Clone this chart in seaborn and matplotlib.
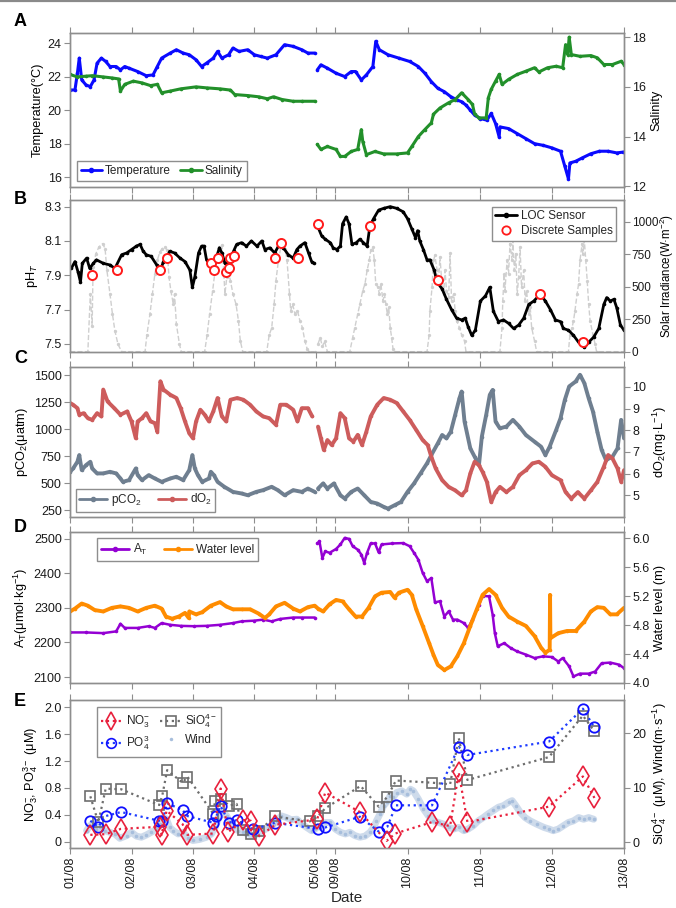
import numpy as np
import matplotlib
matplotlib.use("Agg")
import matplotlib.pyplot as plt
from matplotlib.lines import Line2D
import seaborn as sns

# ------------------------------------------------------------------ data
tick_days = [1, 2, 3, 4, 5, 9, 10, 11, 12, 13]
tick_labels = ["01/08", "02/08", "03/08", "04/08", "05/08",
               "09/08", "10/08", "11/08", "12/08", "13/08"]

# Panel A (day of August, value)
temp_day = [1.00, 1.08, 1.12, 1.15, 1.19, 1.26, 1.33, 1.39, 1.44, 1.51, 1.58, 1.65, 1.75, 1.82, 1.89,
            1.96, 2.10, 2.24, 2.35, 2.42, 2.49, 2.63, 2.73, 2.84, 2.94, 3.05, 3.14, 3.22, 3.33, 3.40,
            3.47, 3.58, 3.65, 3.75, 3.89, 4.00, 4.10, 4.21, 4.35, 4.49, 4.63, 4.77, 4.87, 4.98,
            8.75, 8.80, 8.89, 9.01, 9.13, 9.22, 9.28, 9.36, 9.43, 9.52, 9.56, 9.61, 9.73, 9.88, 10.03,
            10.15, 10.24, 10.33, 10.42, 10.51, 10.60, 10.69, 10.75, 10.81, 10.87, 10.93, 11.01, 11.10,
            11.16, 11.22, 11.27, 11.28, 11.40, 11.52, 11.64, 11.76, 11.88, 12.00, 12.12, 12.18, 12.23,
            12.25, 12.33, 12.42, 12.54, 12.66, 12.78, 12.90, 12.99]
temp_val = [21.2, 21.2, 22.2, 23.1, 21.8, 21.5, 21.4, 21.8, 22.8, 23.1, 22.9, 22.6, 22.6, 22.4, 22.6,
            22.5, 22.3, 22.05, 22.1, 22.6, 23.1, 23.4, 23.6, 23.4, 23.3, 23.0, 22.6, 22.8, 23.1, 23.5,
            23.1, 23.3, 23.7, 23.5, 23.6, 23.3, 23.2, 23.1, 23.3, 23.9, 23.8, 23.6, 23.4, 23.4,
            22.4, 22.7, 22.5, 22.2, 22.0, 22.3, 22.3, 21.8, 22.1, 22.6, 24.1, 23.6, 23.3, 23.1, 22.9,
            22.6, 22.2, 21.7, 21.3, 21.1, 20.8, 20.6, 20.5, 20.3, 20.0, 19.7, 19.5, 19.4,
            19.8, 19.2, 18.4, 19.0, 18.9, 18.6, 18.3, 18.0, 17.9, 17.75, 17.55, 16.65, 15.9,
            16.85, 16.95, 17.15, 17.4, 17.55, 17.55, 17.45, 17.5]

sal_day = [1.00, 1.12, 1.26, 1.36, 1.54, 1.68, 1.79, 1.82, 1.89, 2.03, 2.17, 2.31, 2.42, 2.49, 2.63,
           2.80, 3.05, 3.22, 3.44, 3.61, 3.68, 3.89, 4.07, 4.21, 4.31, 4.45, 4.63, 4.77, 4.98,
           8.75, 8.80, 8.89, 9.01, 9.07, 9.13, 9.22, 9.31, 9.36, 9.38, 9.43, 9.55, 9.67, 9.85, 10.00,
           10.06, 10.15, 10.24, 10.33, 10.36, 10.45, 10.57, 10.66, 10.75, 10.84, 10.90, 10.93, 10.99,
           11.09, 11.12, 11.16, 11.22, 11.27, 11.31, 11.40, 11.52, 11.64, 11.76, 11.82, 11.94, 12.06,
           12.15, 12.19, 12.22, 12.24, 12.27, 12.39, 12.54, 12.63, 12.72, 12.84, 12.96, 13.00]
sal_val = [16.5, 16.4, 16.43, 16.45, 16.4, 16.36, 16.32, 15.83, 16.1, 16.23, 16.16, 16.05, 16.1, 15.76, 15.83,
           15.92, 16.0, 15.96, 15.92, 15.87, 15.69, 15.65, 15.6, 15.52, 15.6, 15.49, 15.42, 15.42, 15.42,
           13.68, 13.48, 13.6, 13.48, 13.2, 13.2, 13.4, 13.48, 14.28, 13.8, 13.27, 13.4, 13.3, 13.3, 13.34,
           13.6, 14.0, 14.28, 14.55, 14.9, 15.15, 15.36, 15.49, 15.76, 15.49, 15.29, 14.9, 14.75,
           14.75, 15.56, 15.9, 16.23, 16.5, 16.1, 16.3, 16.5, 16.63, 16.77, 16.6, 16.77, 16.83,
           16.77, 17.7, 17.3, 18.0, 17.3, 17.23, 17.26, 17.17, 16.9, 16.9, 17.03, 16.9]

# Panel B
ph_day = [1.02, 1.08, 1.13, 1.17, 1.20, 1.27, 1.32, 1.38, 1.43, 1.54, 1.65, 1.73, 1.84, 1.92, 2.00,
          2.08, 2.14, 2.19, 2.24, 2.32, 2.41, 2.46, 2.52, 2.57, 2.62, 2.70, 2.79, 2.87, 2.95, 2.99,
          3.03, 3.09, 3.14, 3.18, 3.22, 3.30, 3.36, 3.43, 3.47, 3.52, 3.60, 3.66, 3.71, 3.79, 3.87,
          3.95, 4.04, 4.12, 4.17, 4.25, 4.33, 4.42, 4.47, 4.55, 4.63, 4.69, 4.74, 4.82, 4.88, 4.93, 4.97,
          8.76, 8.81, 8.86, 8.93, 8.97, 9.02, 9.07, 9.10, 9.15, 9.19, 9.23, 9.29, 9.34, 9.39, 9.44,
          9.48, 9.53, 9.60, 9.67, 9.76, 9.85, 9.94, 10.0, 10.06, 10.11, 10.14, 10.17, 10.22, 10.27, 10.31,
          10.37, 10.41, 10.48, 10.54, 10.61, 10.68, 10.75, 10.80, 10.84, 10.89, 10.94, 11.01, 11.08, 11.14,
          11.19, 11.26, 11.33, 11.40, 11.47, 11.54, 11.61, 11.68, 11.75, 11.84, 11.91, 11.98, 12.05, 12.12,
          12.16, 12.23, 12.30, 12.37, 12.45, 12.51, 12.58, 12.65, 12.72, 12.76, 12.81, 12.86, 12.90, 12.95, 13.0]
ph_val = [7.94, 7.98, 7.92, 7.86, 7.97, 8.0, 7.94, 7.97, 7.99, 7.97, 7.96, 7.94, 8.02, 8.03, 8.05,
          8.07, 8.08, 8.04, 8.02, 8.01, 7.96, 7.92, 7.98, 8.0, 8.04, 8.03, 8.0, 7.98, 7.93, 7.83,
          7.89, 8.03, 8.07, 8.07, 7.99, 7.96, 7.98, 8.06, 8.03, 7.97, 7.97, 8.04, 8.08, 8.09, 8.07,
          8.1, 8.07, 8.1, 8.05, 8.06, 8.03, 8.09, 8.06, 8.02, 8.0, 8.05, 8.07, 8.09, 8.03, 7.98, 7.97,
          8.18, 8.13, 8.11, 8.09, 8.06, 8.05, 8.07, 8.20, 8.24, 8.20, 8.08, 8.09, 8.11, 8.09, 8.07,
          8.19, 8.23, 8.28, 8.29, 8.30, 8.29, 8.27, 8.23, 8.17, 8.12, 8.16, 8.10, 8.05, 7.99, 7.99,
          7.93, 7.86, 7.82, 7.76, 7.70, 7.65, 7.64, 7.65, 7.60, 7.55, 7.58, 7.75, 7.78, 7.83,
          7.69, 7.63, 7.64, 7.62, 7.59, 7.61, 7.65, 7.73, 7.75, 7.79, 7.75, 7.70, 7.64, 7.63,
          7.59, 7.58, 7.55, 7.51, 7.48, 7.51, 7.54, 7.59, 7.73, 7.77, 7.75, 7.76, 7.71, 7.61, 7.58]

disc_day = [1.36, 1.76, 2.46, 2.58, 3.29, 3.34, 3.41, 3.53, 3.58, 3.61, 3.67, 4.33, 4.43, 4.71,
            8.76, 9.48, 10.42, 11.84, 12.43]
disc_val = [7.90, 7.93, 7.93, 8.00, 7.97, 7.93, 8.00, 7.92, 7.94, 8.00, 8.01, 8.00, 8.09, 8.00,
            8.20, 8.19, 7.87, 7.79, 7.51]

irr_day = [1.00, 1.29, 1.33, 1.36, 1.375, 1.42, 1.47, 1.53, 1.57, 1.60, 1.65, 1.69, 1.73, 1.78, 1.84,
           2.22, 2.25, 2.30, 2.34, 2.38, 2.42, 2.46, 2.50, 2.54, 2.58, 2.61, 2.64, 2.68, 2.70, 2.73, 2.78, 2.81,
           3.19, 3.23, 3.27, 3.32, 3.36, 3.39, 3.43, 3.47, 3.49, 3.52, 3.55, 3.57, 3.61, 3.65, 3.70, 3.74, 3.77, 3.81,
           4.20, 4.24, 4.28, 4.32, 4.35, 4.39, 4.43, 4.46, 4.50, 4.53, 4.57, 4.59, 4.62, 4.66, 4.70, 4.74, 4.78,
           4.82, 4.86, 4.89, 4.98,
           8.76, 8.79, 8.82, 8.85, 8.89,
           9.20, 9.24, 9.27, 9.31, 9.34, 9.38, 9.41, 9.44, 9.47, 9.49, 9.52, 9.54, 9.56, 9.59, 9.61, 9.63, 9.66,
           9.68, 9.70, 9.72, 9.74, 9.76, 9.78, 9.80, 9.82,
           10.27, 10.30, 10.31, 10.34, 10.36, 10.38, 10.41, 10.43, 10.45, 10.48, 10.50, 10.52, 10.54, 10.57,
           10.59, 10.61, 10.64, 10.66, 10.68, 10.72, 10.75, 10.79, 10.81,
           11.28, 11.31, 11.32, 11.34, 11.35, 11.38, 11.40, 11.42, 11.45, 11.46, 11.48, 11.50, 11.52, 11.54,
           11.56, 11.58, 11.61, 11.63, 11.65, 11.68, 11.70, 11.72, 11.76, 11.79,
           12.23, 12.25, 12.28, 12.30, 12.32, 12.35, 12.37, 12.39, 12.42, 12.43, 12.45, 12.47, 12.49, 12.51,
           12.53, 12.57, 12.60, 12.62, 13.0]
irr_val = [0, 0, 444, 199, 651, 754, 806, 832, 793, 625, 444, 289, 160, 57, 0,
           0, 129, 289, 444, 599, 703, 767, 793, 806, 780, 573, 470, 366, 444, 212, 57, 0,
           0, 129, 289, 470, 625, 728, 806, 819, 703, 444, 573, 625, 547, 444, 366, 237, 83, 0,
           0, 129, 181, 366, 547, 703, 806, 845, 793, 703, 444, 315, 366, 289, 315, 237, 186,
           82, 18, 0, 0,
           60, 108, 40, 80, 0,
           0, 108, 186, 289, 366, 470, 521, 625, 703, 780, 806, 703, 521, 496, 444, 521, 392,
           444, 366, 289, 341, 186, 108, 18, 0,
           0, 129, 315, 496, 703, 741, 625, 547, 728, 496, 444, 625, 470, 418,
           760, 392, 444, 315, 237, 186, 129, 82, 0,
           0, 186, 392, 599, 470, 703, 599, 832, 703, 858, 625, 754, 444, 573,
           806, 496, 625, 392, 470, 289, 341, 186, 82, 0,
           0, 129, 186, 237, 315, 444, 521, 703, 832, 754, 858, 703, 547, 366,
           237, 129, 57, 0, 0]

# Panel C
pco2_day = [1.00, 1.05, 1.12, 1.15, 1.19, 1.26, 1.33, 1.36, 1.44, 1.54, 1.65, 1.75, 1.82, 1.86, 1.96,
            2.07, 2.10, 2.17, 2.28, 2.38, 2.49, 2.63, 2.73, 2.84, 2.94, 2.99, 3.03, 3.08, 3.15, 3.26,
            3.29, 3.34, 3.40, 3.51, 3.65, 3.79, 3.89, 4.03, 4.14, 4.28, 4.38, 4.49, 4.63, 4.77, 4.87, 4.98,
            8.76, 8.83, 8.89, 8.98, 9.07, 9.13, 9.22, 9.31, 9.40, 9.49, 9.58, 9.67, 9.73, 9.82, 9.91,
            10.00, 10.09, 10.18, 10.27, 10.33, 10.42, 10.48, 10.54, 10.60, 10.66, 10.72, 10.75, 10.79, 10.87,
            10.93, 10.99, 11.03, 11.09, 11.14, 11.18, 11.22, 11.28, 11.37, 11.46, 11.55, 11.64, 11.76, 11.85,
            11.91, 11.97, 12.06, 12.12, 12.18, 12.24, 12.33, 12.39, 12.45, 12.51, 12.57, 12.63, 12.69, 12.75,
            12.84, 12.91, 12.96, 13.00]
pco2_val = [607, 638, 700, 762, 623, 669, 700, 638, 592, 592, 607, 592, 545, 514, 530,
            638, 576, 530, 576, 545, 514, 545, 561, 530, 623, 762, 638, 576, 514, 545,
            607, 576, 514, 468, 421, 406, 390, 421, 437, 468, 437, 390, 437, 421, 452, 421,
            452, 499, 452, 499, 390, 359, 421, 452, 390, 328, 313, 282, 266, 297, 328,
            421, 499, 592, 685, 762, 871, 948, 917, 979, 1134, 1289, 1351, 1072, 824,
            747, 669, 933, 1134, 1320, 1366, 1072, 1010, 1026, 1088, 1026, 948, 886, 840,
            762, 840, 995, 1103, 1274, 1398, 1444, 1506, 1429, 1289, 1165, 979, 809, 716,
            747, 824, 1088, 917]

do2_day = [1.00, 1.05, 1.12, 1.15, 1.22, 1.29, 1.36, 1.44, 1.51, 1.54, 1.61, 1.72, 1.82, 1.93, 2.00,
           2.07, 2.10, 2.17, 2.24, 2.31, 2.38, 2.42, 2.47, 2.52, 2.63, 2.73, 2.80, 2.87, 2.94, 3.00,
           3.05, 3.12, 3.19, 3.26, 3.33, 3.40, 3.47, 3.54, 3.61, 3.72, 3.82, 3.93, 4.03, 4.14, 4.24,
           4.35, 4.42, 4.52, 4.63, 4.70, 4.77, 4.87, 4.94,
           8.76, 8.80, 8.84, 8.89, 8.95, 9.01, 9.07, 9.13, 9.19, 9.25, 9.31, 9.37, 9.43, 9.49, 9.58,
           9.67, 9.76, 9.85, 9.94, 10.03, 10.12, 10.21, 10.28, 10.33, 10.39, 10.48, 10.57, 10.66, 10.75,
           10.81, 10.87, 10.93, 10.99, 11.04, 11.10, 11.16, 11.22, 11.28, 11.37, 11.46, 11.55, 11.64, 11.73,
           11.82, 11.91, 12.00, 12.12, 12.19, 12.27, 12.36, 12.45, 12.54, 12.63, 12.72, 12.78, 12.84, 12.91,
           12.96, 13.00]
do2_val = [9.26, 9.18, 9.02, 8.72, 8.79, 8.56, 8.48, 8.79, 8.64, 9.88, 9.33, 9.02, 8.72, 8.87, 8.41,
           7.63, 8.41, 8.56, 8.79, 8.41, 8.33, 7.94, 10.26, 9.88, 9.64, 9.49, 9.02, 8.41, 7.86, 7.63,
           8.41, 8.95, 8.72, 8.41, 8.87, 9.49, 8.64, 8.41, 9.41, 9.49, 9.41, 9.18, 8.87, 8.64, 8.56,
           8.25, 9.18, 9.18, 8.95, 8.41, 9.02, 9.02, 8.64,
           8.17, 7.63, 7.09, 7.55, 7.32, 7.63, 8.79, 8.56, 7.63, 7.48, 7.79, 7.32, 7.94, 8.64, 9.18,
           9.49, 9.41, 9.26, 8.87, 8.48, 8.02, 7.55, 7.32, 6.78, 6.24, 5.70, 5.39, 5.23, 5.0,
           5.23, 6.01, 6.55, 6.39, 6.08, 5.62, 4.69, 5.15, 5.39, 5.15, 5.39, 5.93, 6.16, 6.47,
           6.55, 6.32, 5.93, 5.70, 5.15, 4.85, 5.15, 4.85, 5.23, 5.62, 6.32, 6.86, 6.70, 6.24,
           5.62, 6.16]

# Panel D
at_day = [1.00, 1.26, 1.54, 1.75, 1.82, 1.89, 2.10, 2.28, 2.38, 2.49, 2.63, 2.80, 3.01, 3.22, 3.44,
          3.65, 3.79, 4.00, 4.14, 4.28, 4.42, 4.63, 4.77, 4.98,
          8.75, 8.78, 8.82, 8.86, 8.92, 9.01, 9.07, 9.13, 9.19, 9.24, 9.31, 9.36, 9.40, 9.44, 9.49,
          9.55, 9.60, 9.64, 9.79, 9.94, 10.03, 10.09, 10.15, 10.21, 10.27, 10.33, 10.38, 10.45, 10.51,
          10.57, 10.63, 10.69, 10.78, 10.84, 10.90, 10.99, 11.04, 11.13, 11.18, 11.21, 11.25, 11.34,
          11.43, 11.52, 11.64, 11.76, 11.88, 12.00, 12.09, 12.15, 12.24, 12.30, 12.39, 12.51, 12.60,
          12.69, 12.81, 12.93, 13.00]
at_val = [2229, 2229, 2227, 2232, 2254, 2242, 2242, 2247, 2242, 2256, 2251, 2248, 2247, 2248, 2251,
          2256, 2261, 2263, 2266, 2261, 2268, 2272, 2272, 2272,
          2486, 2492, 2444, 2463, 2459, 2470, 2483, 2502, 2499, 2478, 2468, 2454, 2430, 2459, 2486,
          2486, 2460, 2483, 2486, 2487, 2478, 2459, 2439, 2401, 2377, 2386, 2316, 2319, 2275,
          2290, 2266, 2266, 2256, 2242, 2266, 2309, 2335, 2333, 2280, 2227, 2189, 2198,
          2184, 2174, 2165, 2155, 2160, 2158, 2145, 2155, 2131, 2102, 2110, 2110, 2116,
          2140, 2142, 2136, 2126]

wl_day = [1.00, 1.08, 1.19, 1.29, 1.40, 1.54, 1.68, 1.82, 1.96, 2.10, 2.24, 2.38, 2.49, 2.56, 2.66,
          2.77, 2.87, 2.93, 2.94, 3.05, 3.15, 3.29, 3.44, 3.54, 3.65, 3.79, 3.93, 4.07, 4.17, 4.24,
          4.35, 4.49, 4.63, 4.74, 4.87, 4.98, 8.76,
          8.83, 8.92, 9.01, 9.10, 9.19, 9.28, 9.37, 9.46, 9.55, 9.64, 9.76, 9.82, 9.88, 10.00, 10.06,
          10.12, 10.21, 10.30, 10.36, 10.42, 10.51, 10.60, 10.69, 10.78, 10.87, 10.96, 11.04, 11.13,
          11.22, 11.31, 11.40, 11.52, 11.64, 11.76, 11.85, 11.91, 11.97, 11.975, 11.98, 12.09, 12.21,
          12.33, 12.45, 12.54, 12.63, 12.72, 12.81, 12.90, 13.00]
wl_val = [4.99, 5.03, 5.10, 5.07, 5.01, 4.99, 5.04, 5.06, 5.04, 4.99, 5.04, 5.07, 5.03, 4.92, 4.89,
          4.92, 4.97, 4.90, 4.99, 4.95, 4.98, 5.07, 5.12, 5.06, 5.02, 5.02, 5.02, 4.96, 4.90, 4.95,
          5.06, 5.11, 5.03, 4.99, 5.05, 5.07, 5.03,
          4.99, 5.09, 5.15, 5.13, 5.02, 4.92, 4.92, 5.04, 5.20, 5.25, 5.26, 5.18, 5.25, 5.29, 5.22,
          5.02, 4.79, 4.55, 4.39, 4.25, 4.18, 4.23, 4.37, 4.55, 4.79, 5.02, 5.22, 5.30,
          5.22, 5.04, 4.92, 4.85, 4.79, 4.65, 4.49, 4.42, 4.46, 5.22, 4.62, 4.69, 4.72,
          4.72, 4.85, 4.99, 5.05, 5.04, 4.95, 4.95, 5.04]

# Panel E
no3_day = [1.33, 1.58, 1.83, 2.46, 2.49, 2.57, 2.83, 2.91, 3.33, 3.45, 3.57, 3.82, 3.94, 4.08,
           4.34, 5.02, 8.86, 9.34, 9.71, 9.83, 10.34, 10.59, 10.71, 10.83, 11.96, 12.43, 12.59]
no3_val = [0.10, 0.11, 0.19, 0.22, 0.10, 0.46, 0.26, 0.10, 0.12, 0.79, 0.14, 0.32, 0.31, 0.08,
           0.25, 0.33, 0.73, 0.44, 0.01, 0.12, 0.29, 0.23, 1.03, 0.29, 0.52, 0.97, 0.65]

po4_day = [1.33, 1.46, 1.58, 1.83, 2.45, 2.50, 2.58, 2.83, 2.91, 3.33, 3.38, 3.45, 3.59, 3.71,
           3.98, 4.33, 5.03, 8.86, 9.34, 9.61, 9.72, 9.84, 10.34, 10.71, 10.83, 11.96, 12.43, 12.59]
po4_val = [0.31, 0.22, 0.38, 0.44, 0.31, 0.30, 0.57, 0.47, 0.38, 0.28, 0.38, 0.53, 0.28, 0.32,
           0.18, 0.28, 0.19, 0.21, 0.37, 0.14, 0.22, 0.54, 0.54, 1.41, 1.29, 1.49, 1.98, 1.70]

sio4_day = [1.33, 1.46, 1.58, 1.83, 2.45, 2.50, 2.58, 2.83, 2.91, 3.33, 3.36, 3.45, 3.59, 3.71,
            3.82, 3.94, 4.08, 4.33, 4.90, 5.03, 8.86, 9.35, 9.60, 9.72, 9.84, 10.34, 10.59, 10.71,
            10.83, 11.96, 12.43, 12.59]
sio4_val = [8.4, 3.6, 9.8, 9.7, 6.8, 8.5, 13.2, 10.9, 12.0, 5.2, 7.6, 8.0, 6.7, 7.0,
            2.3, 1.5, 2.1, 4.7, 3.8, 4.7, 6.2, 10.3, 6.5, 8.3, 11.3, 10.9, 10.6, 19.1,
            11.4, 15.6, 23.2, 20.3]

wind_day = [1.27, 1.32, 1.38, 1.43, 1.48, 1.57, 1.65, 1.73, 1.81, 1.92, 2.00, 2.08, 2.16, 2.24, 2.32,
            2.41, 2.46, 2.52, 2.57, 2.62, 2.68, 2.76, 2.84, 2.92, 3.00, 3.11, 3.22, 3.30, 3.36, 3.41,
            3.49, 3.55, 3.60, 3.66, 3.74, 3.82, 3.90, 3.98, 4.06, 4.14, 4.23, 4.31, 4.36, 4.44, 4.52,
            4.60, 4.69, 4.77, 4.85, 4.93, 4.99,
            8.79, 8.86, 8.93, 9.00, 9.07, 9.14, 9.20, 9.27, 9.34, 9.41, 9.48, 9.53, 9.57, 9.62, 9.67,
            9.71, 9.76, 9.80, 9.85, 9.92, 9.99, 10.04, 10.08, 10.15, 10.22, 10.29, 10.36, 10.43, 10.50,
            10.57, 10.64, 10.71, 10.78, 10.84, 10.91, 10.98, 11.05, 11.12, 11.19, 11.26, 11.33, 11.40,
            11.45, 11.50, 11.56, 11.63, 11.70, 11.79, 11.89, 11.96, 12.02, 12.09, 12.16, 12.23, 12.30,
            12.37, 12.44, 12.51, 12.58]
wind_val = [2.1, 3.0, 3.3, 2.4, 2.7, 2.1, 1.8, 1.5, 0.7, 1.2, 1.8, 1.1, 0.9, 1.3, 1.8,
            2.4, 3.3, 4.5, 4.2, 2.7, 2.1, 1.5, 1.8, 0.7, 0.3, 0.5, 0.9, 1.5, 2.7, 4.2,
            5.5, 4.8, 3.6, 2.7, 2.1, 1.8, 1.5, 1.2, 1.5, 2.1, 2.7, 3.3, 3.9, 4.8, 4.5,
            4.1, 4.2, 3.3, 2.7, 2.1, 2.4,
            2.7, 3.6, 3.6, 2.4, 1.8, 1.5, 1.8, 1.2, 0.9, 1.1, 1.8, 2.7, 3.9, 5.2, 6.7,
            7.3, 8.5, 8.2, 9.1, 9.4, 8.8, 9.7, 9.4, 7.9, 6.1, 4.8, 3.9, 3.6, 3.3,
            2.7, 2.4, 2.7, 2.1, 2.4, 3.0, 3.9, 4.5, 5.2, 5.8, 6.4, 6.7, 7.3,
            7.6, 6.7, 5.5, 4.5, 3.9, 3.3, 2.7, 2.4, 2.1, 2.4, 3.0, 3.6, 3.9,
            4.5, 4.2, 4.5, 4.2]

# ------------------------------------------------------------------ helpers
SEG2_START = 4.316   # axis position of 09/08 (broken time axis)
SEG2_SCALE = 1.174   # axis units per day after the break


def to_pos(days):
    d = np.asarray(days, dtype=float)
    return np.where(d < 7, d - 1.0, SEG2_START + (d - 9.0) * SEG2_SCALE)


def segments(name, days, vals, split=True):
    d = np.asarray(days, dtype=float)
    v = np.asarray(vals, dtype=float)
    if len(d) != len(v):
        raise ValueError(f"{name}: {len(d)} days vs {len(v)} values")
    if not split:
        return [(d, v)]
    m = d < 7
    return [(d[m], v[m]), (d[~m], v[~m])]


def draw(ax, name, days, vals, split=True, **kw):
    for d, v in segments(name, days, vals, split):
        if len(d):
            sns.lineplot(x=to_pos(d), y=v, ax=ax, estimator=None, sort=False,
                         legend=False, **kw)


# ------------------------------------------------------------------ style
sns.set_theme(style="ticks")
plt.rcParams["font.family"] = ["Liberation Sans", "DejaVu Sans"]
plt.rcParams["mathtext.fontset"] = "custom"
plt.rcParams["mathtext.rm"] = "Liberation Sans"
plt.rcParams["mathtext.it"] = "Liberation Sans:italic"
plt.rcParams["mathtext.bf"] = "Liberation Sans:bold"
plt.rcParams["axes.unicode_minus"] = True

SPINE = "#8e8e8e"
TXT = "#1a1a1a"
TICK_FS = 9.0
LAB_FS = 9.2
LEG_FS = 8.5

fig = plt.figure(figsize=(6.76, 9.08), dpi=100)
fig.add_artist(Line2D([0, 1], [0.9985, 0.9985], transform=fig.transFigure,
                      color="#8a8a8a", lw=1.6))

L, W = 0.1036, 0.8195
rects = {"A": [L, 0.7941, W, 0.1696],
         "B": [L, 0.6127, W, 0.1671],
         "C": [L, 0.4306, W, 0.1652],
         "D": [L, 0.2478, W, 0.1663],
         "E": [L, 0.0660, W, 0.1630]}
letter_y = {"A": 22, "B": 200, "C": 358, "D": 528, "E": 702}

axes = {}
twins = {}
for k, r in rects.items():
    ax = fig.add_axes(r)
    tw = ax.twinx()
    axes[k] = ax
    twins[k] = tw
    fig.text(14 / 676, 1 - letter_y[k] / 908, k, fontsize=13, fontweight="bold",
             ha="left", va="center", color="black")

line_kw = dict(marker="o", markersize=2.6, markeredgewidth=0)
leg_kw = dict(borderaxespad=0, fontsize=LEG_FS, fancybox=False, edgecolor=SPINE,
              framealpha=1)

# ---- A
axA, twA = axes["A"], twins["A"]
draw(axA, "temp", temp_day, temp_val, color="#0a0aff", linewidth=2.2, **line_kw)
draw(twA, "sal", sal_day, sal_val, color="#22902a", linewidth=2.2, **line_kw)
axA.set_ylim(15.42, 24.6)
axA.set_yticks([16, 18, 20, 22, 24])
twA.set_ylim(11.97, 18.17)
twA.set_yticks([12, 14, 16, 18])
axA.set_ylabel("Temperature(°C)", fontsize=LAB_FS)
twA.set_ylabel("Salinity", fontsize=LAB_FS)
hA = [Line2D([], [], color="#0a0aff", lw=2, marker="o", ms=3),
      Line2D([], [], color="#22902a", lw=2, marker="o", ms=3)]
twA.legend(hA, ["Temperature", "Salinity"], loc="lower left", ncol=2,
           bbox_to_anchor=(0.012, 0.04), handlelength=1.8, handletextpad=0.25,
           columnspacing=0.8, borderpad=0.35, **leg_kw)

# ---- B
axB, twB = axes["B"], twins["B"]
axB.set_zorder(twB.get_zorder() + 1)
axB.patch.set_visible(False)
draw(twB, "irr", irr_day, irr_val, color="#cfcfcf", linewidth=1.0, linestyle="--",
     marker="o", markersize=2.4, markeredgewidth=0)
draw(axB, "ph", ph_day, ph_val, color="black", linewidth=2.0, **line_kw)
sns.lineplot(x=to_pos(disc_day), y=disc_val, ax=axB, estimator=None, sort=False,
             legend=False, linestyle="none", marker="o", markersize=6.5,
             markerfacecolor="white", markeredgecolor="#ff1a1a", markeredgewidth=1.4)
axB.set_ylim(7.455, 8.339)
axB.set_yticks([7.5, 7.7, 7.9, 8.1, 8.3])
axB.set_yticklabels(["7.5", "7.7", "7.9", "8.1", "8.3"])
twB.set_ylim(0, 1168)
twB.set_yticks([0, 250, 500, 750, 1000])
axB.set_ylabel("pH$_{\\mathit{T}}$", fontsize=LAB_FS)
twB.set_ylabel("Solar Irradiance(W·m$^{-2}$)", fontsize=8.3)
hB = [Line2D([], [], color="black", lw=2, marker="o", ms=3),
      Line2D([], [], color="#ff1a1a", lw=0, marker="o", ms=6, mfc="white", mew=1.3)]
axB.legend(hB, ["LOC Sensor", "Discrete Samples"], loc="upper right",
           bbox_to_anchor=(0.986, 0.955), handlelength=1.8, handletextpad=0.35,
           borderpad=0.3, labelspacing=0.25, **leg_kw)

# ---- C
axC, twC = axes["C"], twins["C"]
draw(axC, "pco2", pco2_day, pco2_val, color="#6f7f90", linewidth=2.8, **line_kw)
draw(twC, "do2", do2_day, do2_val, color="#cd5c5c", linewidth=2.8, **line_kw)
axC.set_ylim(188, 1578)
axC.set_yticks([250, 500, 750, 1000, 1250, 1500])
twC.set_ylim(4.0, 10.92)
twC.set_yticks([5, 6, 7, 8, 9, 10])
axC.set_ylabel("pCO$_2$(μatm)", fontsize=LAB_FS)
twC.set_ylabel("dO$_2$(mg·L$^{-1}$)", fontsize=LAB_FS)
hC = [Line2D([], [], color="#6f7f90", lw=2, marker="o", ms=3),
      Line2D([], [], color="#cd5c5c", lw=2, marker="o", ms=3)]
twC.legend(hC, ["pCO$_2$", "dO$_2$"], loc="lower left", ncol=2,
           bbox_to_anchor=(0.01, 0.035), handlelength=2.4, handletextpad=0.3,
           columnspacing=1.4, borderpad=0.3, **leg_kw)

# ---- D
axD, twD = axes["D"], twins["D"]
draw(axD, "at", at_day, at_val, color="#9400d3", linewidth=1.8, **line_kw)
draw(twD, "wl", wl_day, wl_val, split=False, color="#ff8c00", linewidth=2.8, **line_kw)
axD.set_ylim(2083, 2519)
axD.set_yticks([2100, 2200, 2300, 2400, 2500])
twD.set_ylim(4.0, 6.09)
twD.set_yticks([4.0, 4.4, 4.8, 5.2, 5.6, 6.0])
twD.set_yticklabels(["4.0", "4.4", "4.8", "5.2", "5.6", "6.0"])
axD.set_ylabel("A$_{\\mathrm{T}}$(μmol·kg$^{-1}$)", fontsize=LAB_FS)
twD.set_ylabel("Water level (m)", fontsize=LAB_FS)
hD = [Line2D([], [], color="#9400d3", lw=2, marker="o", ms=3),
      Line2D([], [], color="#ff8c00", lw=2, marker="o", ms=3)]
twD.legend(hD, ["A$_{\\mathrm{T}}$", "Water level"], loc="upper left", ncol=2,
           bbox_to_anchor=(0.049, 0.958), handlelength=2.4, handletextpad=0.3,
           columnspacing=1.4, borderpad=0.3, **leg_kw)

# ---- E
axE, twE = axes["E"], twins["E"]
axE.set_zorder(twE.get_zorder() + 1)
axE.patch.set_visible(False)
WIND_C = "#a7bedc"
draw(twE, "wind", wind_day, wind_val, color=WIND_C, linewidth=5.0, alpha=0.55)
draw(twE, "wind_pts", wind_day, wind_val, color=WIND_C, linestyle="none",
     marker="o", markersize=2.6, markeredgewidth=0)
draw(twE, "sio4", sio4_day, sio4_val, split=False, color="#6e6e6e", linewidth=1.6,
     linestyle=":", marker="s", markersize=7, markerfacecolor="none",
     markeredgecolor="#6e6e6e", markeredgewidth=1.2)
draw(axE, "po4", po4_day, po4_val, split=False, color="#1f3dff", linewidth=1.6,
     linestyle=":", marker="o", markersize=7.5, markerfacecolor="none",
     markeredgecolor="#1010ff", markeredgewidth=1.3)
draw(axE, "no3", no3_day, no3_val, split=False, color="#e8203c", linewidth=1.6,
     linestyle=":", marker="d", markersize=10, markerfacecolor="none",
     markeredgecolor="#e8203c", markeredgewidth=1.2)
axE.set_ylim(-0.097, 2.108)
axE.set_yticks([0, 0.4, 0.8, 1.2, 1.6, 2.0])
axE.set_yticklabels(["0", "0.4", "0.8", "1.2", "1.6", "2.0"])
twE.set_ylim(-1.09, 26.05)
twE.set_yticks([0, 10, 20])
axE.set_ylabel("NO$_3^{-}$, PO$_4^{3-}$ (μM)", fontsize=LAB_FS)
twE.set_ylabel("SiO$_4^{4-}$ (μM), Wind(m·s$^{-1}$)", fontsize=LAB_FS)
hE = [Line2D([], [], color="#e8203c", lw=1.6, ls=":", marker="d", ms=9, mfc="none", mew=1.2),
      Line2D([], [], color="#1f3dff", lw=1.6, ls=":", marker="o", ms=7, mfc="none",
             mec="#1010ff", mew=1.2),
      Line2D([], [], color="#6e6e6e", lw=1.6, ls=":", marker="s", ms=7, mfc="none", mew=1.2),
      Line2D([], [], color=WIND_C, lw=0, marker="o", ms=2.5, mew=0)]
axE.legend(hE, ["NO$_3^{-}$", "PO$_4^{3}$", "SiO$_4^{4-}$", "Wind"], loc="upper left",
           ncol=2, bbox_to_anchor=(0.048, 0.951), handlelength=1.8, handletextpad=0.3,
           columnspacing=0.9, borderpad=0.35, labelspacing=0.3, **leg_kw)
axE.set_xlabel("Date", fontsize=11, labelpad=2)

# ------------------------------------------------------------------ common axes styling
xmax = float(to_pos(13))
for k in rects:
    ax, tw = axes[k], twins[k]
    for a in (ax, tw):
        a.set_xlim(0, xmax)
        for s in a.spines.values():
            s.set_color(SPINE)
            s.set_linewidth(1.0)
        a.tick_params(axis="y", direction="out", length=4, width=0.8, color=SPINE,
                      labelsize=TICK_FS, labelcolor=TXT, pad=2)
        a.yaxis.label.set_color("black")
    ax.set_xticks(to_pos(tick_days))
    ax.tick_params(axis="x", direction="out", length=4, width=0.8, color=SPINE,
                   top=True, labelsize=9, labelcolor=TXT, pad=2)
    tw.tick_params(axis="x", top=False, bottom=False)
    if k != "E":
        ax.set_xticklabels([])
        ax.set_xlabel("")
    ax.yaxis.labelpad = 3
    tw.yaxis.labelpad = 3
twB.tick_params(axis="y", pad=1.5, labelsize=8.5)
twB.yaxis.labelpad = 0
axE.set_xticklabels(tick_labels, rotation=90)

fig.savefig("out.png", dpi=100)
